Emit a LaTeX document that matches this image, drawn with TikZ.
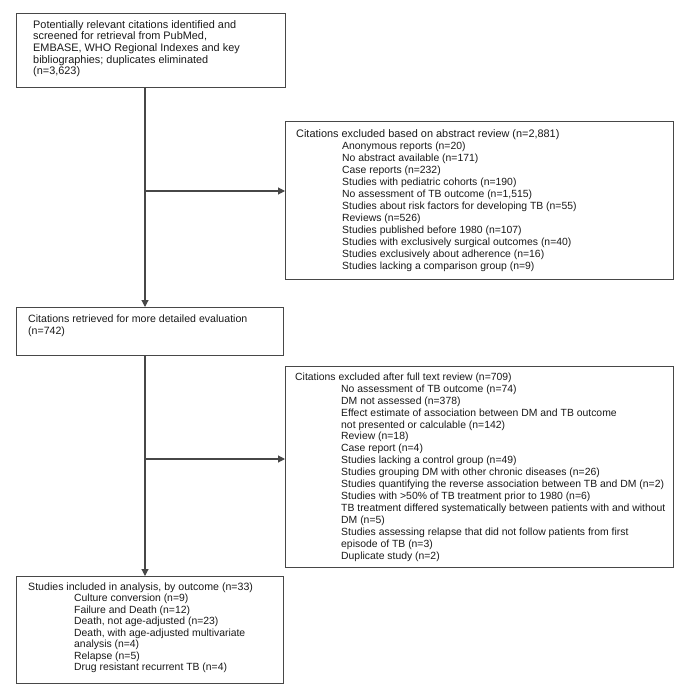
\documentclass[tikz,border=0pt]{standalone}
\usepackage{fontspec}
\setmainfont{Liberation Sans}
\usetikzlibrary{arrows.meta}
\begin{document}
\begin{tikzpicture}[x=1pt,y=-1pt,
  box/.style={draw=black!72, line width=1.1pt, anchor=north west, inner sep=0pt, fill=none},
  txt/.style={anchor=north west, inner sep=0pt, align=left, text=black!90,
     font=\fontsize{10.4}{11.95}\selectfont},
  conn/.style={draw=black!72, line width=1.1pt},
  arr/.style={conn, -{Triangle[length=7pt,width=7pt]}}]
\useasboundingbox (0,0) rectangle (685,690);
\newcommand{\ii}{\hspace*{46pt}}
\newcommand{\mybigsz}{\fontsize{10.9}{11.95}\selectfont}
% boxes
\node[box, minimum width=269pt, minimum height=74pt] (b1) at (16,13) {};
\node[box, minimum width=388pt, minimum height=158pt] (b2) at (285,121) {};
\node[box, minimum width=267pt, minimum height=48pt] (b3) at (16,307) {};
\node[box, minimum width=388pt, minimum height=201pt] (b4) at (285,366) {};
\node[box, minimum width=267pt, minimum height=107pt] (b5) at (16,576) {};
% texts
\node[txt, font=\fontsize{10.9}{11.7}\selectfont] (t1) at (33,20) {Potentially relevant citations identified and\\
screened for retrieval from PubMed,\\
EMBASE, WHO Regional Indexes and key\\
bibliographies; duplicates eliminated\\
(n=3,623)};
\node[txt] (t2) at (296,129.5) {{\mybigsz Citations excluded based on abstract review (n=2,881)}\\
\ii Anonymous reports (n=20)\\
\ii No abstract available (n=171)\\
\ii Case reports (n=232)\\
\ii Studies with pediatric cohorts (n=190)\\
\ii No assessment of TB outcome (n=1,515)\\
\ii Studies about risk factors for developing TB (n=55)\\
\ii Reviews (n=526)\\
\ii Studies published before 1980 (n=107)\\
\ii Studies with exclusively surgical outcomes (n=40)\\
\ii Studies exclusively about adherence (n=16)\\
\ii Studies lacking a comparison group (n=9)};
\node[txt, font=\fontsize{10.6}{11.95}\selectfont] (t3) at (28,314.5) {Citations retrieved for more detailed evaluation\\
(n=742)};
\node[txt] (t4) at (295,372.5) {Citations excluded after full text review (n=709)\\
\ii No assessment of TB outcome (n=74)\\
\ii DM not assessed (n=378)\\
\ii Effect estimate of association between DM and TB outcome\\
\ii not presented or calculable (n=142)\\
\ii Review (n=18)\\
\ii Case report (n=4)\\
\ii Studies lacking a control group (n=49)\\
\ii Studies grouping DM with other chronic diseases (n=26)\\
\ii Studies quantifying the reverse association between TB and DM (n=2)\\
\ii Studies with >50\% of TB treatment prior to 1980 (n=6)\\
\ii TB treatment differed systematically between patients with and without\\
\ii DM (n=5)\\
\ii Studies assessing relapse that did not follow patients from first\\
\ii episode of TB (n=3)\\
\ii Duplicate study (n=2)};
\node[txt, font=\fontsize{10.4}{11.45}\selectfont] (t5) at (28,582.5) {{\fontsize{10.6}{11.45}\selectfont Studies included in analysis, by outcome (n=33)}\\
\ii Culture conversion (n=9)\\
\ii Failure and Death (n=12)\\
\ii Death, not age-adjusted (n=23)\\
\ii Death, with age-adjusted multivariate\\
\ii analysis (n=4)\\
\ii Relapse (n=5)\\
\ii Drug resistant recurrent TB (n=4)};
% connectors
\coordinate (x1) at (145,0);
\coordinate (j1) at (145,191);
\coordinate (j2) at (145,459);
\draw[arr] (b1.south -| x1) -- (b3.north -| x1);
\draw[arr] (j1) -- (j1 -| b2.west);
\draw[arr] (b3.south -| x1) -- (b5.north -| x1);
\draw[arr] (j2) -- (j2 -| b4.west);
\end{tikzpicture}
\end{document}
